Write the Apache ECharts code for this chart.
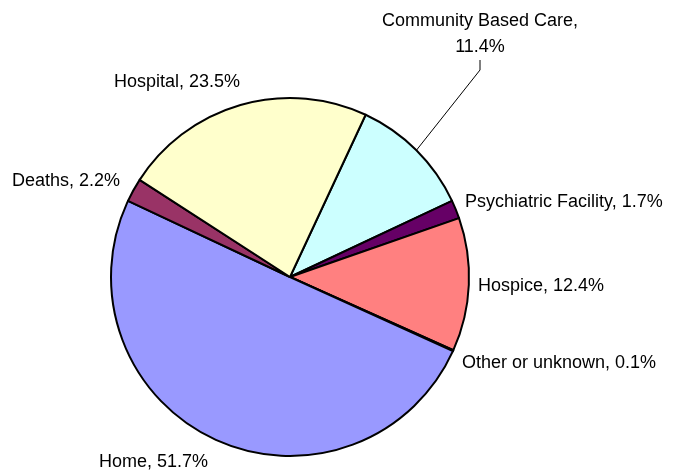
<!DOCTYPE html>
<html>
<head>
<meta charset="utf-8">
<script src="https://cdn.jsdelivr.net/npm/echarts@6/dist/echarts.min.js"></script>
<style>
  html, body { margin: 0; padding: 0; background: #fff; }
  #chart { width: 678px; height: 475px; }
</style>
</head>
<body>
<div id="chart"></div>
<script>
// Discharge destinations, listed clockwise starting at the top-right slice
const categories = [
  'Community Based Care',
  'Psychiatric Facility',
  'Hospice',
  'Other or unknown',
  'Home',
  'Deaths',
  'Hospital'
];
const shares = [11.4, 1.7, 12.4, 0.1, 51.7, 2.2, 23.5];

// Slice fills, in the same order as the categories
const sliceColors = ['#CCFFFF', '#660066', '#FF8080', '#0066CC', '#9999FF', '#993366', '#FFFFCC'];

// Where each label sits (x, y, horizontal alignment)
const labelSpots = [
  [480, 34, 'center'],
  [465, 202, 'left'],
  [478, 286, 'left'],
  [462, 363, 'left'],
  [99, 462, 'left'],
  [12, 181, 'left'],
  [114, 82, 'left']
];

const chart = echarts.init(document.getElementById('chart'), null, { renderer: 'canvas' });

const data = categories.map((name, i) => {
  const item = {
    name: name,
    value: shares[i],
    itemStyle: { color: sliceColors[i] },
    labelLine: { show: i === 0 }
  };
  if (i === 0) {
    item.label = { formatter: '{b},\n{c}%', align: 'center' };
  }
  return item;
});

chart.setOption({
  animation: false,
  backgroundColor: '#ffffff',
  series: [{
    type: 'pie',
    center: [290, 277],
    radius: 179,
    startAngle: 65,
    clockwise: true,
    avoidLabelOverlap: false,
    minAngle: 0,
    data: data,
    itemStyle: { borderColor: '#000000', borderWidth: 2 },
    emphasis: { disabled: true },
    label: {
      show: true,
      position: 'outside',
      formatter: '{b}, {c}%',
      fontFamily: 'Liberation Sans, Arial, sans-serif',
      fontSize: 18,
      lineHeight: 26,
      color: '#000000'
    },
    labelLine: {
      show: false,
      length: 10,
      length2: 10,
      smooth: false,
      lineStyle: { color: '#000000', width: 1 }
    },
    labelLayout: function (params) {
      const s = labelSpots[params.dataIndex];
      return { x: s[0], y: s[1], align: s[2], verticalAlign: 'middle' };
    }
  }]
});
</script>
</body>
</html>
